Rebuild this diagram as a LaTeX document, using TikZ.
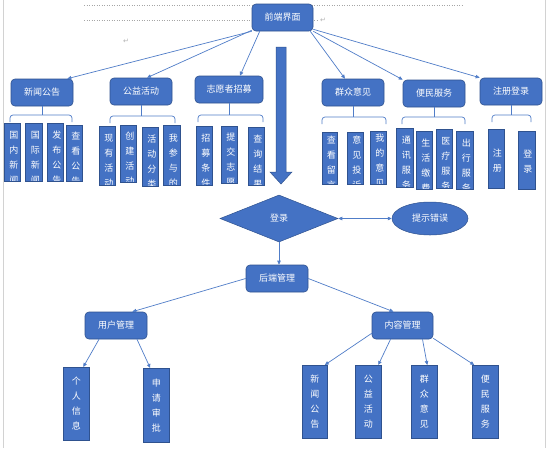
\documentclass[tikz,border=0pt]{standalone}
\usepackage{fontspec}
\newfontfamily\cjk{Noto Sans CJK SC}
\newfontfamily\djv{DejaVu Sans}
\usetikzlibrary{shapes.geometric,arrows.meta}
\definecolor{bfill}{RGB}{68,114,196}
\definecolor{bdraw}{RGB}{47,82,143}
\definecolor{lblue}{RGB}{80,125,200}
\tikzset{voff/.initial=5pt}
\newcommand\mybrc[4]{%
  \draw[brc] (#2,#4+7) -- (#2,#4) -- (#3,#4) -- (#3,#4+7);
  \draw[brc] (#1.south) -- (#1.south |- 0,#4);}
\begin{document}
\begin{tikzpicture}[x=1pt,y=-1pt,
  rbox/.style={rectangle, rounded corners=4pt, fill=bfill, draw=bdraw, line width=0.6pt,
    text=white, font=\cjk\fontsize{9}{11}\selectfont, inner sep=0pt},
  conn/.style={draw=lblue, line width=0.7pt, -{Triangle[length=4pt,width=3.5pt]}},
  brc/.style={draw=lblue, line width=0.7pt, rounded corners=3pt},
  vbox/.style={rectangle, fill=bfill, draw=bdraw, line width=0.5pt, inner sep=0pt, anchor=north west},
  vtxt/.style={text=white, font=\cjk\fontsize{9}{15}\selectfont, align=center, inner sep=0pt},
  vb/.style={vbox, path picture={\node[vtxt, anchor=north] at ([xshift=1.5pt,yshift=-\pgfkeysvalueof{/tikz/voff}]path picture bounding box.north) {#1};}},
  vbc/.style={vbox, path picture={\node[vtxt, anchor=center] at ([xshift=1pt,yshift=-1.5pt]path picture bounding box.center) {#1};}},
  pmark/.style={font=\djv\fontsize{7}{7}\selectfont, text=gray!60, inner sep=0pt}
]
\useasboundingbox (0,0) rectangle (548,448);
\fill[white] (0,0) rectangle (548,448);
% page edges and formatting marks
\draw[gray!35, line width=0.6pt] (3,0) -- (3,448);
\draw[gray!35, line width=0.6pt] (545,0) -- (545,448);
\draw[gray!70, dotted, line width=0.5pt] (84,5) -- (462,5);
\draw[gray!70, dotted, line width=0.5pt] (84,20) -- (318,20);
\node[pmark] (m1) at (126,41) {↵};
\node[pmark] (m2) at (323,20) {↵};

% top
\node[rbox, minimum width=61, minimum height=27] (top) at (282.5,17.5) {前端界面};

% level 1
\node[rbox, minimum width=62, minimum height=27] (news) at (42,92.5) {新闻公告};
\node[rbox, minimum width=62, minimum height=27] (gy) at (141,91.5) {公益活动};
\node[rbox, minimum width=68, minimum height=27] (zy) at (229,89.5) {志愿者招募};
\node[rbox, minimum width=62, minimum height=27] (qz) at (353,92.5) {群众意见};
\node[rbox, minimum width=62, minimum height=27] (bm) at (434,93.5) {便民服务};
\node[rbox, minimum width=62, minimum height=27] (zc) at (511,91.5) {注册登录};

\draw[conn] (top.south west) -- ([xshift=-6pt]news.north east);
\draw[conn] ([yshift=1pt]top.south west) -- ([xshift=6pt]gy.north);
\draw[conn] ([xshift=8pt]top.south west) -- ([xshift=11pt]zy.north);
\draw[conn] ([xshift=-3pt]top.south east) -- ([xshift=-8pt]qz.north);
\draw[conn] (top.south east) -- (bm.north west);
\draw[conn] ([yshift=2pt]top.south east) -- (zc.north west);

% braces
\mybrc{news}{10}{72}{115}
\mybrc{gy}{110}{175}{116}
\mybrc{zy}{198}{263}{115}
\mybrc{qz}{322}{386}{117}
\mybrc{bm}{402}{465}{117}
\mybrc{zc}{492}{531}{115}

% children of 新闻公告
\node[vb={国\\内\\新\\闻}, minimum width=16, minimum height=58] (n1) at (4,123) {};
\node[vb={国\\际\\新\\闻}, minimum width=17, minimum height=58] (n2) at (25,123) {};
\node[vb={发\\布\\公\\告}, minimum width=16, minimum height=58] (n3) at (47,123) {};
\node[vb={查\\看\\公\\告}, minimum width=16, minimum height=56] (n4) at (66,125) {};
% children of 公益活动
\node[vb={现\\有\\活\\动}, minimum width=16, minimum height=59] (g1) at (99,126) {};
\node[vb={创\\建\\活\\动}, minimum width=16, minimum height=57] (g2) at (120,125) {};
\node[vb={活\\动\\分\\类}, minimum width=16, minimum height=59] (g3) at (142,127) {};
\node[vb={我\\参\\与\\的}, minimum width=17, minimum height=60] (g4) at (163,125) {};
% children of 志愿者招募
\node[vb={招\\募\\条\\件}, minimum width=16, minimum height=59] (z1) at (196,126) {};
\node[vb={提\\交\\志\\愿}, minimum width=16, minimum height=57] (z2) at (221,126) {};
\node[vb={查\\询\\结\\果}, minimum width=16, minimum height=58] (z3) at (248,127) {};
% children of 群众意见
\node[vb={查\\看\\留\\言}, voff=3pt, minimum width=15, minimum height=52] (q1) at (322,132) {};
\node[vb={意\\见\\投\\诉}, voff=3pt, minimum width=16, minimum height=52] (q2) at (347,132) {};
\node[vb={我\\的\\意\\见}, voff=3pt, minimum width=16, minimum height=53] (q3) at (370,131) {};
% children of 便民服务
\node[vb={通\\讯\\服\\务}, minimum width=17, minimum height=59] (b1) at (396,128) {};
\node[vb={生\\活\\缴\\费}, minimum width=16, minimum height=58] (b2) at (416,131) {};
\node[vb={医\\疗\\服\\务}, minimum width=16, minimum height=59] (b3) at (436,129) {};
\node[vb={出\\行\\服\\务}, minimum width=17, minimum height=58] (b4) at (456,131) {};
% children of 注册登录
\node[vbc={注\\册}, minimum width=16, minimum height=59] (r1) at (488,129) {};
\node[vbc={登\\录}, minimum width=17, minimum height=58] (r2) at (518,131) {};

% big arrow
\filldraw[fill=bfill, draw=bdraw, line width=0.5pt]
  (276,47) -- (286,47) -- (286,172) -- (292,172) -- (281,184) -- (270,172) -- (276,172) -- cycle;

% login
\node[diamond, fill=bfill, draw=bdraw, line width=0.5pt, minimum width=118, minimum height=47,
  inner sep=0pt, text=white, font=\cjk\fontsize{9}{11}\selectfont] (dl) at (279,218.5) {登录};
\node[ellipse, fill=bfill, draw=bdraw, line width=0.5pt, minimum width=76, minimum height=33,
  inner sep=0pt, text=white, font=\cjk\fontsize{9}{11}\selectfont] (ts) at (430,218.5) {提示错误};
\draw[conn, {Triangle[length=4pt,width=3.5pt]}-{Triangle[length=4pt,width=3.5pt]}] (dl.east) -- (ts.west);

% back end
\node[rbox, minimum width=62, minimum height=27] (hd) at (277,278.5) {后端管理};
\draw[conn] (dl.south) -- (dl.south |- hd.north);
\node[rbox, minimum width=62, minimum height=27] (yh) at (116,325.5) {用户管理};
\node[rbox, minimum width=61, minimum height=27] (nr) at (402.5,325.5) {内容管理};
\draw[conn] (hd.west) -- ([xshift=-15pt]yh.north east);
\draw[conn] (hd.east) -- ([xshift=-9pt]nr.north);

\node[vbox, vtxt, minimum width=26, minimum height=73] (gr) at (63,367) {个\\人\\信\\息};
\node[vbox, vtxt, minimum width=26, minimum height=74] (sq) at (143,368) {申\\请\\审\\批};
\draw[conn] ([xshift=-17pt]yh.south) -- ([xshift=7pt]gr.north);
\draw[conn] ([xshift=21pt]yh.south) -- ([xshift=-6pt]sq.north);

\node[vbox, vtxt, minimum width=25, minimum height=73] (c1) at (302,365) {新\\闻\\公\\告};
\node[vbox, vtxt, minimum width=26, minimum height=73] (c2) at (355,365) {公\\益\\活\\动};
\node[vbox, vtxt, minimum width=26, minimum height=73] (c3) at (411,365) {群\\众\\意\\见};
\node[vbox, vtxt, minimum width=26, minimum height=73] (c4) at (472,365) {便\\民\\服\\务};
\draw[conn] ([yshift=6pt]nr.south west) -- ([xshift=10pt]c1.north);
\draw[conn] ([xshift=-12pt]nr.south) -- ([xshift=10pt]c2.north);
\draw[conn] ([xshift=20pt]nr.south) -- ([xshift=3pt]c3.north);
\draw[conn] ([yshift=1pt]nr.south east) -- ([xshift=-11pt]c4.north);
\end{tikzpicture}
\end{document}
